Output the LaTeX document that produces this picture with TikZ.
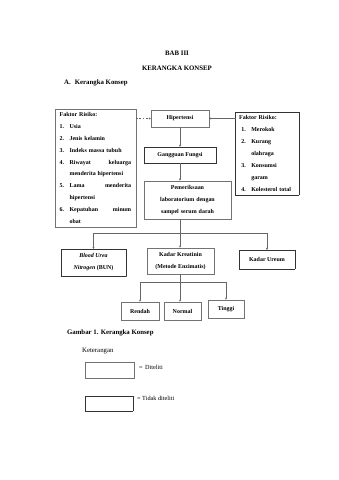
\documentclass[tikz,border=0pt]{standalone}
\usepackage{fontspec}
\setmainfont{Liberation Serif}
\usetikzlibrary{arrows.meta}

\newcommand{\butir}[1]{\makebox[17.5pt][l]{#1}}
\newcommand{\lanjut}{\hspace*{17.5pt}}

\tikzset{
    solidbox/.style={draw=black!55, line width=0.5pt, fill=white, inner sep=0pt,
        font=\fontsize{10.5}{21}\selectfont\bfseries},
    dotbox/.style={draw=black!80, dash pattern=on 0.7pt off 1pt, line width=0.6pt, fill=white, inner sep=0pt,
        font=\fontsize{10.5}{21}\selectfont\bfseries},
    conn/.style={draw=black!60, line width=0.5pt, -{Latex[length=3.5pt,width=3.5pt]}},
    plain/.style={inner sep=0pt}
}

\begin{document}
\begin{tikzpicture}[x=0.06195cm, y=-0.06195cm]
    \useasboundingbox (0,0) rectangle (339,480);

    % Headings
    \node[plain, font=\fontsize{12}{14}\selectfont\bfseries] (bab) at (177,53) {BAB III};
    \node[plain, font=\fontsize{12}{14}\selectfont\bfseries] (judul) at (177,68) {KERANGKA KONSEP};
    \node[plain, anchor=west, font=\fontsize{12}{14}\selectfont\bfseries] (subjudul) at (64,83) {\makebox[19pt][l]{A.}Kerangka Konsep};

    % Draw nodes
    \node[solidbox, anchor=north west, text width=126pt, align=left, inner xsep=8pt, inner ysep=5.5pt] (risikoA) at (55,109) {%
        Faktor Risiko:\\
        \butir{1.}Usia\\
        \butir{2.}Jenis kelamin\\
        \butir{3.}Indeks massa tubuh\\
        \butir{4.}Riwayat \hfill keluarga\\
        \lanjut menderita hipertensi\\
        \butir{5.}Lama \hfill menderita\\
        \lanjut hipertensi\\
        \butir{6.}Kepatuhan \hfill minum\\
        \lanjut obat};
    \node[dotbox, anchor=north west, text width=98pt, align=left, inner xsep=7pt, inner ysep=6pt] (risikoB) at (235,112) {%
        Faktor Risiko:\\
        \hspace*{4pt}\butir{1.}Merokok\\
        \hspace*{4pt}\butir{2.}Kurang\\
        \hspace*{4pt}\lanjut olahraga\\
        \hspace*{4pt}\butir{3.}Konsumsi\\
        \hspace*{4pt}\lanjut garam\\
        \hspace*{4pt}\butir{4.}Kolesterol total\par\vspace{7pt}};
    \node[solidbox, minimum width=102pt, minimum height=30pt] (hipertensi) at (180,118.5) {Hipertensi};
    \node[dotbox, minimum width=126pt, minimum height=28pt] (gangguan) at (180,155) {Gangguan Fungsi};
    \node[solidbox, text width=140pt, align=center, inner xsep=6.5pt, inner ysep=8pt] (periksa) at (187.5,200) {%
        Pemeriksaan\\ laboratorium dengan\\ sampel serum darah};
    \node[dotbox, minimum width=114pt, minimum height=47pt, align=center] (bun) at (93.5,262.5) {%
        \textit{Blood Urea}\\ \textit{Nitrogen} (BUN)};
    \node[solidbox, minimum width=118pt, minimum height=46pt, align=center] (kreatinin) at (180.5,261) {%
        Kadar Kreatinin\\ (Metode Enzimatis)};
    \node[dotbox, minimum width=98pt, minimum height=33pt] (ureum) at (267,259.5) {Kadar Ureum};
    \node[solidbox, minimum width=67pt, minimum height=32pt] (rendah) at (140,311) {Rendah};
    \node[solidbox, minimum width=65pt, minimum height=32pt] (normal) at (182.5,311) {Normal};
    \node[solidbox, minimum width=63pt, minimum height=32pt] (tinggi) at (226,309) {Tinggi};

    % Branch points
    \coordinate (cabangA) at (180,233);
    \coordinate (cabangB) at (180,282);

    % Draw connections
    \draw[conn, dashed] (risikoA.east |- hipertensi.west) -- (hipertensi.west);
    \draw[conn, densely dotted] (risikoB.west |- hipertensi.east) -- (hipertensi.east);
    \draw[conn] (hipertensi) -- (gangguan);
    \draw[conn] (gangguan.south) -- (gangguan.south |- periksa.north);
    \draw[draw=black!60, line width=0.5pt] (periksa.south -| cabangA) -- (cabangA);
    \draw[conn] (cabangA) -- (cabangA |- kreatinin.north);
    \draw[conn] (cabangA) -| (bun.north);
    \draw[conn] (cabangA) -| (ureum.north);
    \draw[draw=black!60, line width=0.5pt] (kreatinin.south -| cabangB) -- (cabangB);
    \draw[conn] (cabangB) -| (rendah.north);
    \draw[conn] (cabangB) -- (cabangB |- normal.north);
    \draw[conn] (cabangB) -| (tinggi.north);

    % Caption and legend
    \node[plain, anchor=west, font=\fontsize{12}{14}\selectfont\bfseries] (gambar) at (67,333) {Gambar 1. Kerangka Konsep};
    \node[plain, anchor=west, font=\fontsize{12}{14}\selectfont] (keterangan) at (82,351) {Keterangan};
    \node[solidbox, minimum width=86pt, minimum height=28pt] (legendaA) at (109.5,370) {};
    \node[dotbox, minimum width=84pt, minimum height=26pt] (legendaB) at (109,403.5) {};
    \node[plain, anchor=west, font=\fontsize{11}{13}\selectfont] (labelA) at (139,367) {=\, Diteliti};
    \node[plain, anchor=west, font=\fontsize{11}{13}\selectfont] (labelB) at (137,398) {= Tidak diteliti};
\end{tikzpicture}
\end{document}
